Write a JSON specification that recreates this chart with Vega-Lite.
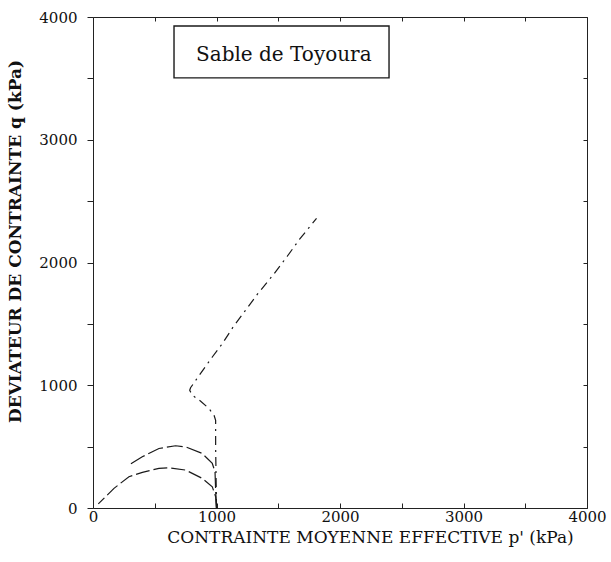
{
  "$schema": "https://vega.github.io/schema/vega-lite/v6.json",
  "autosize": {"type": "none"},
  "padding": {"left": 93, "top": 17, "right": 24, "bottom": 54},
  "width": 494,
  "height": 491,
  "background": "white",
  "config": {
    "view": {"stroke": null},
    "axis": {"domainColor": "#222", "tickColor": "#222", "labelColor": "#111", "titleColor": "#111", "grid": false}
  },
  "datasets": {
    "courbes": [
      {"serie": "A", "ordre": 1, "p": 1000, "q": 0},
      {"serie": "A", "ordre": 2, "p": 993, "q": 92},
      {"serie": "A", "ordre": 3, "p": 966, "q": 173},
      {"serie": "A", "ordre": 4, "p": 885, "q": 241},
      {"serie": "A", "ordre": 5, "p": 750, "q": 309},
      {"serie": "A", "ordre": 6, "p": 615, "q": 328},
      {"serie": "A", "ordre": 7, "p": 534, "q": 323},
      {"serie": "A", "ordre": 8, "p": 400, "q": 290},
      {"serie": "A", "ordre": 9, "p": 291, "q": 255},
      {"serie": "A", "ordre": 10, "p": 170, "q": 160},
      {"serie": "A", "ordre": 11, "p": 43, "q": 33},
      {"serie": "B", "ordre": 1, "p": 1000, "q": 0},
      {"serie": "B", "ordre": 2, "p": 993, "q": 150},
      {"serie": "B", "ordre": 3, "p": 988, "q": 295},
      {"serie": "B", "ordre": 4, "p": 966, "q": 363},
      {"serie": "B", "ordre": 5, "p": 885, "q": 444},
      {"serie": "B", "ordre": 6, "p": 750, "q": 498},
      {"serie": "B", "ordre": 7, "p": 669, "q": 507},
      {"serie": "B", "ordre": 8, "p": 534, "q": 485},
      {"serie": "B", "ordre": 9, "p": 399, "q": 417},
      {"serie": "B", "ordre": 10, "p": 291, "q": 350},
      {"serie": "C", "ordre": 1, "p": 1000, "q": 0},
      {"serie": "C", "ordre": 2, "p": 993, "q": 498},
      {"serie": "C", "ordre": 3, "p": 993, "q": 715},
      {"serie": "C", "ordre": 4, "p": 980, "q": 756},
      {"serie": "C", "ordre": 5, "p": 939, "q": 810},
      {"serie": "C", "ordre": 6, "p": 872, "q": 870},
      {"serie": "C", "ordre": 7, "p": 804, "q": 919},
      {"serie": "C", "ordre": 8, "p": 783, "q": 959},
      {"serie": "C", "ordre": 9, "p": 790, "q": 980},
      {"serie": "C", "ordre": 10, "p": 899, "q": 1136},
      {"serie": "C", "ordre": 11, "p": 966, "q": 1230},
      {"serie": "C", "ordre": 12, "p": 1047, "q": 1339},
      {"serie": "C", "ordre": 13, "p": 1135, "q": 1475},
      {"serie": "C", "ordre": 14, "p": 1330, "q": 1740},
      {"serie": "C", "ordre": 15, "p": 1466, "q": 1908},
      {"serie": "C", "ordre": 16, "p": 1573, "q": 2051},
      {"serie": "C", "ordre": 17, "p": 1673, "q": 2190},
      {"serie": "C", "ordre": 18, "p": 1810, "q": 2360}
    ],
    "cadre": [
      {"p": 656, "p2": 2397, "q": 3927, "q2": 3504}
    ],
    "etiquette": [
      {"p": 1545, "q": 3690, "texte": "Sable de Toyoura"}
    ]
  },
  "layer": [
    {
      "data": {"name": "courbes"},
      "mark": {"type": "line", "color": "#1a1a1a", "strokeWidth": 1.2},
      "encoding": {
        "x": {
          "field": "p", "type": "quantitative",
          "scale": {"domain": [0, 4000], "nice": false, "zero": false},
          "axis": {
            "values": [0, 500, 1000, 1500, 2000, 2500, 3000, 3500, 4000],
            "labelExpr": "datum.value % 1000 == 0 ? datum.label : ''",
            "format": "d",
            "tickSize": -5,
            "labelPadding": 6,
            "labelFont": "DejaVu Serif", "labelFontSize": 15,
            "labelFlush": false,
            "title": "CONTRAINTE MOYENNE EFFECTIVE p' (kPa)",
            "titleFont": "DejaVu Serif", "titleFontSize": 17, "titleFontWeight": "normal",
            "titlePadding": 5,
            "titleX": 277
          }
        },
        "y": {
          "field": "q", "type": "quantitative",
          "scale": {"domain": [0, 4000], "nice": false, "zero": false},
          "axis": {
            "values": [0, 500, 1000, 1500, 2000, 2500, 3000, 3500, 4000],
            "labelExpr": "datum.value % 1000 == 0 ? datum.label : ''",
            "format": "d",
            "tickSize": 6,
            "labelPadding": 10,
            "labelFont": "DejaVu Serif", "labelFontSize": 15,
            "labelFlush": false,
            "title": "DEVIATEUR DE CONTRAINTE q (kPa)",
            "titleFont": "DejaVu Serif", "titleFontSize": 17, "titleFontWeight": "bold",
            "titleX": -78, "titleY": 224, "titleBaseline": "middle", "titleAlign": "center"
          }
        },
        "detail": {"field": "serie"},
        "order": {"field": "ordre"},
        "strokeDash": {
          "field": "serie", "type": "nominal",
          "scale": {"domain": ["A", "B", "C"], "range": [[14, 4], [16, 4], [9, 5, 2, 5]]},
          "legend": null
        }
      }
    },
    {
      "data": {"name": "cadre"},
      "mark": {"type": "rect", "fill": null, "stroke": "#1a1a1a", "strokeWidth": 1.4},
      "encoding": {
        "x": {"field": "p", "type": "quantitative", "axis": {"orient": "top", "values": [0, 500, 1000, 1500, 2000, 2500, 3000, 3500, 4000], "labels": false, "title": null, "tickSize": -4}},
        "x2": {"field": "p2"},
        "y": {"field": "q", "type": "quantitative", "axis": {"orient": "right", "values": [0, 500, 1000, 1500, 2000, 2500, 3000, 3500, 4000], "labels": false, "title": null, "tickSize": -4}},
        "y2": {"field": "q2"}
      }
    },
    {
      "data": {"name": "etiquette"},
      "mark": {"type": "text", "font": "DejaVu Serif", "fontSize": 20, "color": "#111", "align": "center", "baseline": "middle"},
      "encoding": {
        "x": {"field": "p", "type": "quantitative", "axis": null},
        "y": {"field": "q", "type": "quantitative", "axis": null},
        "text": {"field": "texte"}
      }
    }
  ],
  "resolve": {"axis": {"x": "independent", "y": "independent"}}
}
